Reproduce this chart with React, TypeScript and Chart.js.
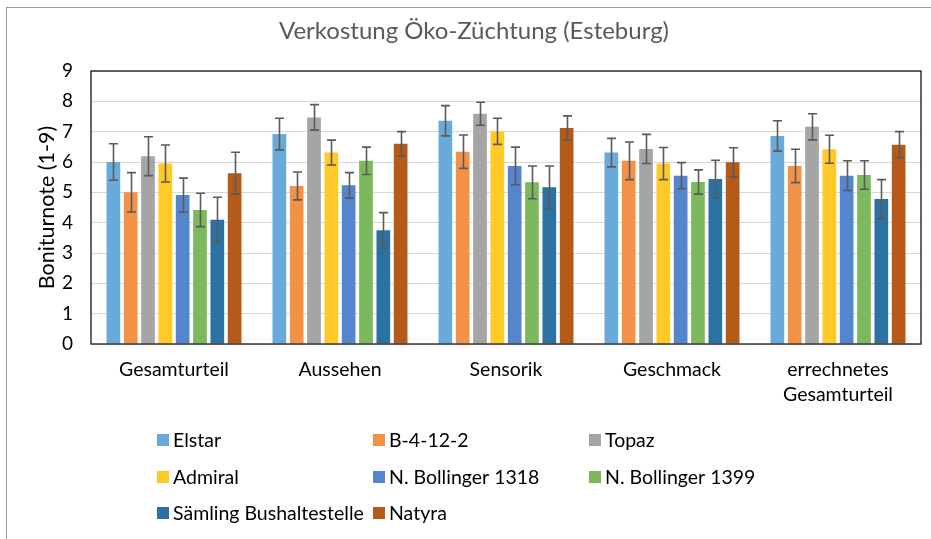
import React, { useEffect, useRef } from "react";
import { Chart, registerables } from "chart.js";

Chart.register(...registerables);

const TITLE = "Verkostung Öko-Züchtung (Esteburg)";
const Y_TITLE = "Boniturnote (1-9)";
const categories: (string | string[])[] = [
  "Gesamturteil",
  "Aussehen",
  "Sensorik",
  "Geschmack",
  ["errechnetes", "Gesamturteil"],
];
const seriesNames = [
  "Elstar",
  "B-4-12-2",
  "Topaz",
  "Admiral",
  "N. Bollinger 1318",
  "N. Bollinger 1399",
  "Sämling Bushaltestelle",
  "Natyra",
];
const seriesColors = [
  "#69AADB",
  "#F39147",
  "#A5A5A5",
  "#FFCA28",
  "#5585CC",
  "#7CB85C",
  "#2B71A2",
  "#B55A19",
];
const elstar = [6.0, 6.92, 7.36, 6.31, 6.86];
const b4122 = [5.0, 5.21, 6.34, 6.04, 5.87];
const topaz = [6.19, 7.47, 7.59, 6.43, 7.16];
const admiral = [5.95, 6.31, 7.01, 5.95, 6.42];
const nb1318 = [4.91, 5.23, 5.87, 5.55, 5.55];
const nb1399 = [4.42, 6.04, 5.33, 5.34, 5.57];
const saemling = [4.1, 3.75, 5.17, 5.44, 4.78];
const natyra = [5.63, 6.6, 7.12, 5.99, 6.57];

const elstarErr = [0.6, 0.52, 0.5, 0.47, 0.5];
const b4122Err = [0.65, 0.46, 0.55, 0.62, 0.55];
const topazErr = [0.64, 0.42, 0.38, 0.48, 0.43];
const admiralErr = [0.61, 0.41, 0.43, 0.53, 0.46];
const nb1318Err = [0.56, 0.42, 0.62, 0.43, 0.49];
const nb1399Err = [0.55, 0.45, 0.54, 0.4, 0.47];
const saemlingErr = [0.74, 0.58, 0.7, 0.62, 0.64];
const natyraErr = [0.69, 0.4, 0.4, 0.48, 0.43];

const yTicks = [0, 1, 2, 3, 4, 5, 6, 7, 8, 9];

const seriesValues = [elstar, b4122, topaz, admiral, nb1318, nb1399, saemling, natyra];
const seriesErrors = [elstarErr, b4122Err, topazErr, admiralErr, nb1318Err, nb1399Err, saemlingErr, natyraErr];

const FONT = "Lato, 'Open Sans', sans-serif";

const decorPlugin = {
  id: "decor",
  beforeDraw(chart: any) {
    const ctx = chart.ctx;
    ctx.save();
    ctx.fillStyle = "#ffffff";
    ctx.fillRect(0, 0, chart.width, chart.height);
    ctx.strokeStyle = "#9A9A9A";
    ctx.lineWidth = 1;
    ctx.strokeRect(6.5, 7.5, chart.width + 20, chart.height + 20);
    ctx.restore();
  },
  afterDatasetsDraw(chart: any) {
    const ctx = chart.ctx;
    const yScale = chart.scales.y;
    ctx.save();
    ctx.strokeStyle = "#5A5A5A";
    ctx.lineWidth = 1.6;
    chart.data.datasets.forEach((ds: any, i: number) => {
      const meta = chart.getDatasetMeta(i);
      const errs = seriesErrors[i];
      meta.data.forEach((bar: any, j: number) => {
        const v = ds.data[j];
        const e = errs[j];
        const x = Math.round(bar.x) + 0.5;
        const yHi = yScale.getPixelForValue(v + e);
        const yLo = yScale.getPixelForValue(v - e);
        const cap = 4.5;
        ctx.beginPath();
        ctx.moveTo(x, yHi);
        ctx.lineTo(x, yLo);
        ctx.moveTo(x - cap, yHi);
        ctx.lineTo(x + cap, yHi);
        ctx.moveTo(x - cap, yLo);
        ctx.lineTo(x + cap, yLo);
        ctx.stroke();
      });
    });
    ctx.restore();
  },
  afterDraw(chart: any) {
    const ctx = chart.ctx;
    const a = chart.chartArea;
    ctx.save();
    // plot border
    ctx.strokeStyle = "#262626";
    ctx.lineWidth = 1.4;
    ctx.strokeRect(a.left, a.top, a.right - a.left, a.bottom - a.top);
    // title
    ctx.fillStyle = "#595959";
    ctx.font = `24px ${FONT}`;
    ctx.textAlign = "center";
    ctx.textBaseline = "middle";
    ctx.fillText(TITLE, 474, 31);
    // legend
    const colX = [157, 373, 589];
    const rowY = [440, 477, 513];
    ctx.font = `19.5px ${FONT}`;
    ctx.textAlign = "left";
    ctx.textBaseline = "middle";
    seriesNames.forEach((name, i) => {
      const cx = colX[i % 3];
      const cy = rowY[Math.floor(i / 3)];
      ctx.fillStyle = seriesColors[i];
      ctx.fillRect(cx, cy - 6, 12, 12);
      ctx.fillStyle = "#000000";
      ctx.fillText(name, cx + 16, cy + 1);
    });
    ctx.restore();
  },
};

export default function App() {
  const ref = useRef<HTMLCanvasElement | null>(null);
  useEffect(() => {
    if (!ref.current) return;
    const chart = new Chart(ref.current, {
      type: "bar",
      data: {
        labels: categories,
        datasets: seriesNames.map((name, i) => ({
          label: name,
          data: seriesValues[i],
          backgroundColor: seriesColors[i],
          borderWidth: 0,
          categoryPercentage: 0.835,
          barPercentage: 0.79,
        })),
      },
      options: {
        responsive: false,
        animation: false,
        layout: { padding: { top: 71, right: 10, bottom: 135, left: 0 } },
        plugins: {
          legend: { display: false },
          title: { display: false },
          tooltip: { enabled: false },
        },
        scales: {
          x: {
            grid: { display: false, drawTicks: false },
            border: { display: false },
            ticks: {
              color: "#000000",
              font: { family: FONT, size: 19.5, lineHeight: 1.25 },
              padding: 14,
              maxRotation: 0,
              autoSkip: false,
            },
            afterFit: (s: any) => {
              s.height = 60;
            },
          },
          y: {
            min: 0,
            max: 9,
            afterBuildTicks: (s: any) => {
              s.ticks = yTicks.map((v) => ({ value: v }));
            },
            grid: { color: "#D9D9D9", lineWidth: 1, drawTicks: false },
            border: { display: false },
            ticks: {
              color: "#000000",
              font: { family: FONT, size: 19 },
              padding: 18,
            },
            title: {
              display: true,
              text: Y_TITLE,
              color: "#000000",
              font: { family: FONT, size: 21.5 },
              padding: { top: 34, bottom: 0 },
            },
            afterFit: (s: any) => {
              s.width = 91;
            },
          },
        },
      },
      plugins: [decorPlugin],
    });
    return () => chart.destroy();
  }, []);
  return (
    <div style={{ position: "absolute", left: 0, top: 0, width: 931, height: 539 }}>
      <canvas ref={ref} width={931} height={539} />
    </div>
  );
}
